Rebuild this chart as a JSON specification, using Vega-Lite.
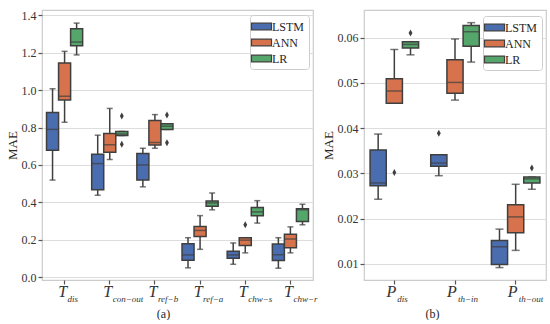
{
  "$schema": "https://vega.github.io/schema/vega-lite/v6.json",
  "padding": {"left": 5, "top": 8, "right": 5, "bottom": 0},
  "datasets": {
    "boxA": [
      {"g": "dis", "model": "LSTM", "lower": 0.519, "q1": 0.678, "median": 0.79, "q3": 0.88, "upper": 1.007},
      {"g": "dis", "model": "ANN", "lower": 0.828, "q1": 0.947, "median": 0.967, "q3": 1.145, "upper": 1.207},
      {"g": "dis", "model": "LR", "lower": 1.188, "q1": 1.237, "median": 1.257, "q3": 1.328, "upper": 1.358},
      {"g": "con−out", "model": "LSTM", "lower": 0.438, "q1": 0.467, "median": 0.607, "q3": 0.657, "upper": 0.759},
      {"g": "con−out", "model": "ANN", "lower": 0.629, "q1": 0.668, "median": 0.708, "q3": 0.768, "upper": 0.902},
      {"g": "con−out", "model": "LR", "lower": 0.757, "q1": 0.757, "median": 0.765, "q3": 0.779, "upper": 0.779},
      {"g": "ref−b", "model": "LSTM", "lower": 0.483, "q1": 0.519, "median": 0.6, "q3": 0.661, "upper": 0.689},
      {"g": "ref−b", "model": "ANN", "lower": 0.689, "q1": 0.707, "median": 0.72, "q3": 0.837, "upper": 0.869},
      {"g": "ref−b", "model": "LR", "lower": 0.79, "q1": 0.79, "median": 0.807, "q3": 0.82, "upper": 0.82},
      {"g": "ref−a", "model": "LSTM", "lower": 0.05, "q1": 0.09, "median": 0.119, "q3": 0.179, "upper": 0.211},
      {"g": "ref−a", "model": "ANN", "lower": 0.149, "q1": 0.218, "median": 0.25, "q3": 0.271, "upper": 0.329},
      {"g": "ref−a", "model": "LR", "lower": 0.36, "q1": 0.379, "median": 0.397, "q3": 0.407, "upper": 0.45},
      {"g": "chw−s", "model": "LSTM", "lower": 0.069, "q1": 0.101, "median": 0.119, "q3": 0.138, "upper": 0.183},
      {"g": "chw−s", "model": "ANN", "lower": 0.13, "q1": 0.17, "median": 0.198, "q3": 0.211, "upper": 0.211},
      {"g": "chw−s", "model": "LR", "lower": 0.289, "q1": 0.328, "median": 0.349, "q3": 0.372, "upper": 0.409},
      {"g": "chw−r", "model": "LSTM", "lower": 0.048, "q1": 0.089, "median": 0.12, "q3": 0.177, "upper": 0.211},
      {"g": "chw−r", "model": "ANN", "lower": 0.13, "q1": 0.158, "median": 0.204, "q3": 0.23, "upper": 0.269},
      {"g": "chw−r", "model": "LR", "lower": 0.28, "q1": 0.297, "median": 0.36, "q3": 0.366, "upper": 0.39}
    ],
    "outA": [
      {"g": "con−out", "model": "LR", "value": 0.862},
      {"g": "con−out", "model": "LR", "value": 0.71},
      {"g": "ref−b", "model": "LR", "value": 0.867},
      {"g": "ref−b", "model": "LR", "value": 0.718},
      {"g": "chw−s", "model": "ANN", "value": 0.28}
    ],
    "boxB": [
      {"g": "dis", "model": "LSTM", "lower": 0.0243, "q1": 0.0273, "median": 0.0279, "q3": 0.0352, "upper": 0.0387},
      {"g": "dis", "model": "ANN", "lower": 0.0455, "q1": 0.0455, "median": 0.0482, "q3": 0.0509, "upper": 0.0574},
      {"g": "dis", "model": "LR", "lower": 0.0562, "q1": 0.0577, "median": 0.0585, "q3": 0.0591, "upper": 0.0591},
      {"g": "th−in", "model": "LSTM", "lower": 0.0295, "q1": 0.0316, "median": 0.0323, "q3": 0.0341, "upper": 0.0341},
      {"g": "th−in", "model": "ANN", "lower": 0.0462, "q1": 0.0477, "median": 0.0501, "q3": 0.0551, "upper": 0.0597},
      {"g": "th−in", "model": "LR", "lower": 0.0546, "q1": 0.0581, "median": 0.0613, "q3": 0.0627, "upper": 0.0633},
      {"g": "th−out", "model": "LSTM", "lower": 0.0092, "q1": 0.0099, "median": 0.0138, "q3": 0.0152, "upper": 0.0177},
      {"g": "th−out", "model": "ANN", "lower": 0.013, "q1": 0.0169, "median": 0.0204, "q3": 0.0231, "upper": 0.0276},
      {"g": "th−out", "model": "LR", "lower": 0.0265, "q1": 0.0279, "median": 0.0288, "q3": 0.0292, "upper": 0.0292}
    ],
    "outB": [
      {"g": "dis", "model": "ANN", "value": 0.0302},
      {"g": "dis", "model": "LR", "value": 0.061},
      {"g": "th−in", "model": "LSTM", "value": 0.0389},
      {"g": "th−out", "model": "LR", "value": 0.0312}
    ]
  },
  "hconcat": [
    {
      "width": 271,
      "height": 270,
      "layer": [
        {
          "data": {"name": "boxA"},
          "mark": {"type": "rule", "color": "#3f3f3f", "strokeWidth": 1.5},
          "encoding": {
            "x": {"field": "g", "type": "nominal", "scale": {"domain": ["dis", "con−out", "ref−b", "ref−a", "chw−s", "chw−r"], "paddingInner": 0, "paddingOuter": 0},
              "axis": {"orient": "bottom", "title": "(a)", "labelExpr": "'T'", "labelFontStyle": "italic", "labelFontSize": 16, "labelPadding": -1, "labelOffset": -2, "labelAngle": 0, "labelOverlap": false, "ticks": true, "tickSize": 4, "grid": false, "domain": false, "titleX": 121, "titlePadding": 9, "titleFontSize": 12}},
            "xOffset": {"field": "model", "type": "nominal", "scale": {"domain": ["LSTM", "ANN", "LR"], "paddingInner": 0, "paddingOuter": 0.375}},
            "y": {"field": "lower", "type": "quantitative", "title": "MAE", "scale": {"domain": [-0.015, 1.428], "nice": false, "zero": false}, "axis": {"values": [0, 0.2, 0.4, 0.6, 0.8, 1.0, 1.2, 1.4], "format": ".1f", "labelOverlap": false}},
            "y2": {"field": "upper"}
          }
        },
        {
          "data": {"name": "boxA"},
          "mark": {"type": "tick", "size": 6, "thickness": 1.5, "color": "#3f3f3f"},
          "encoding": {
            "x": {"field": "g", "type": "nominal",
              "axis": {"orient": "bottom", "title": null, "labelFontStyle": "italic", "labelFontSize": 9, "labelAlign": "left", "labelOffset": 3, "labelPadding": 10, "labelAngle": 0, "labelOverlap": false, "tickOpacity": 0, "tickSize": 4, "grid": false, "domain": false}},
            "xOffset": {"field": "model", "type": "nominal"},
            "y": {"field": "lower", "type": "quantitative", "title": "MAE", "axis": {"values": [0, 0.2, 0.4, 0.6, 0.8, 1.0, 1.2, 1.4], "format": ".1f", "labelOverlap": false}}
          }
        },
        {
          "data": {"name": "boxA"},
          "mark": {"type": "tick", "size": 6, "thickness": 1.5, "color": "#3f3f3f"},
          "encoding": {
            "x": {"field": "g", "type": "nominal", "axis": null},
            "xOffset": {"field": "model", "type": "nominal"},
            "y": {"field": "upper", "type": "quantitative", "title": "MAE", "axis": {"values": [0, 0.2, 0.4, 0.6, 0.8, 1.0, 1.2, 1.4], "format": ".1f", "labelOverlap": false}}
          }
        },
        {
          "data": {"name": "boxA"},
          "mark": {"type": "bar", "stroke": "#3f3f3f", "strokeWidth": 1.5},
          "encoding": {
            "x": {"field": "g", "type": "nominal", "axis": null},
            "xOffset": {"field": "model", "type": "nominal"},
            "y": {"field": "q1", "type": "quantitative", "title": "MAE", "axis": {"values": [0, 0.2, 0.4, 0.6, 0.8, 1.0, 1.2, 1.4], "format": ".1f", "labelOverlap": false}},
            "y2": {"field": "q3"},
            "color": {"field": "model", "type": "nominal", "scale": {"domain": ["LSTM", "ANN", "LR"], "range": ["#4a6db0", "#d6734c", "#55a66a"]},
              "legend": {"title": null, "orient": "none", "legendX": 208, "legendY": 5}}
          }
        },
        {
          "data": {"name": "boxA"},
          "mark": {"type": "tick", "size": 12, "thickness": 1.5, "color": "#3f3f3f"},
          "encoding": {
            "x": {"field": "g", "type": "nominal", "axis": null},
            "xOffset": {"field": "model", "type": "nominal"},
            "y": {"field": "median", "type": "quantitative", "title": "MAE", "axis": {"values": [0, 0.2, 0.4, 0.6, 0.8, 1.0, 1.2, 1.4], "format": ".1f", "labelOverlap": false}}
          }
        },
        {
          "data": {"name": "outA"},
          "mark": {"type": "point", "shape": "M0,-1L0.55,0L0,1L-0.55,0Z", "filled": true, "color": "#3f3f3f", "size": 49, "opacity": 1},
          "encoding": {
            "x": {"field": "g", "type": "nominal", "axis": null},
            "xOffset": {"field": "model", "type": "nominal"},
            "y": {"field": "value", "type": "quantitative", "title": "MAE", "axis": {"values": [0, 0.2, 0.4, 0.6, 0.8, 1.0, 1.2, 1.4], "format": ".1f", "labelOverlap": false}}
          }
        }
      ],
      "resolve": {"axis": {"x": "independent"}}
    },
    {
      "width": 182,
      "height": 270,
      "layer": [
        {
          "data": {"name": "boxB"},
          "mark": {"type": "rule", "color": "#3f3f3f", "strokeWidth": 1.5},
          "encoding": {
            "x": {"field": "g", "type": "nominal", "scale": {"domain": ["dis", "th−in", "th−out"], "paddingInner": 0, "paddingOuter": 0},
              "axis": {"orient": "bottom", "title": "(b)", "labelExpr": "'P'", "labelFontStyle": "italic", "labelFontSize": 16, "labelPadding": -1, "labelOffset": -3, "labelAngle": 0, "labelOverlap": false, "ticks": true, "tickSize": 4, "grid": false, "domain": false, "titleX": 68, "titlePadding": 9, "titleFontSize": 12}},
            "xOffset": {"field": "model", "type": "nominal", "scale": {"domain": ["LSTM", "ANN", "LR"], "paddingInner": 0, "paddingOuter": 0.375}},
            "y": {"field": "lower", "type": "quantitative", "title": "MAE", "scale": {"domain": [0.00646, 0.0661], "nice": false, "zero": false}, "axis": {"values": [0.01, 0.02, 0.03, 0.04, 0.05, 0.06], "format": ".2f", "labelOverlap": false}},
            "y2": {"field": "upper"}
          }
        },
        {
          "data": {"name": "boxB"},
          "mark": {"type": "tick", "size": 8, "thickness": 1.5, "color": "#3f3f3f"},
          "encoding": {
            "x": {"field": "g", "type": "nominal",
              "axis": {"orient": "bottom", "title": null, "labelFontStyle": "italic", "labelFontSize": 9, "labelAlign": "left", "labelOffset": 3, "labelPadding": 10, "labelAngle": 0, "labelOverlap": false, "tickOpacity": 0, "tickSize": 4, "grid": false, "domain": false}},
            "xOffset": {"field": "model", "type": "nominal"},
            "y": {"field": "lower", "type": "quantitative", "title": "MAE", "axis": {"values": [0.01, 0.02, 0.03, 0.04, 0.05, 0.06], "format": ".2f", "labelOverlap": false}}
          }
        },
        {
          "data": {"name": "boxB"},
          "mark": {"type": "tick", "size": 8, "thickness": 1.5, "color": "#3f3f3f"},
          "encoding": {
            "x": {"field": "g", "type": "nominal", "axis": null},
            "xOffset": {"field": "model", "type": "nominal"},
            "y": {"field": "upper", "type": "quantitative", "title": "MAE", "axis": {"values": [0.01, 0.02, 0.03, 0.04, 0.05, 0.06], "format": ".2f", "labelOverlap": false}}
          }
        },
        {
          "data": {"name": "boxB"},
          "mark": {"type": "bar", "stroke": "#3f3f3f", "strokeWidth": 1.5},
          "encoding": {
            "x": {"field": "g", "type": "nominal", "axis": null},
            "xOffset": {"field": "model", "type": "nominal"},
            "y": {"field": "q1", "type": "quantitative", "title": "MAE", "axis": {"values": [0.01, 0.02, 0.03, 0.04, 0.05, 0.06], "format": ".2f", "labelOverlap": false}},
            "y2": {"field": "q3"},
            "color": {"field": "model", "type": "nominal", "scale": {"domain": ["LSTM", "ANN", "LR"], "range": ["#4a6db0", "#d6734c", "#55a66a"]},
              "legend": {"title": null, "orient": "none", "legendX": 119, "legendY": 6}}
          }
        },
        {
          "data": {"name": "boxB"},
          "mark": {"type": "tick", "size": 16, "thickness": 1.5, "color": "#3f3f3f"},
          "encoding": {
            "x": {"field": "g", "type": "nominal", "axis": null},
            "xOffset": {"field": "model", "type": "nominal"},
            "y": {"field": "median", "type": "quantitative", "title": "MAE", "axis": {"values": [0.01, 0.02, 0.03, 0.04, 0.05, 0.06], "format": ".2f", "labelOverlap": false}}
          }
        },
        {
          "data": {"name": "outB"},
          "mark": {"type": "point", "shape": "M0,-1L0.55,0L0,1L-0.55,0Z", "filled": true, "color": "#3f3f3f", "size": 49, "opacity": 1},
          "encoding": {
            "x": {"field": "g", "type": "nominal", "axis": null},
            "xOffset": {"field": "model", "type": "nominal"},
            "y": {"field": "value", "type": "quantitative", "title": "MAE", "axis": {"values": [0.01, 0.02, 0.03, 0.04, 0.05, 0.06], "format": ".2f", "labelOverlap": false}}
          }
        }
      ],
      "resolve": {"axis": {"x": "independent"}}
    }
  ],
  "spacing": 3,
  "resolve": {"scale": {"x": "independent", "y": "independent", "xOffset": "independent", "color": "independent"}, "legend": {"color": "independent"}},
  "config": {
    "font": "Liberation Serif",
    "view": {"stroke": "#cccccc", "strokeWidth": 1.2},
    "axis": {"labelFont": "Liberation Serif", "labelFontSize": 12, "labelColor": "#333333", "titleFont": "Liberation Serif", "titleFontWeight": "normal", "titleFontSize": 13, "titleColor": "#262626", "gridColor": "#dddddd", "gridWidth": 1.2, "domain": false, "tickColor": "#555555", "tickSize": 4, "tickWidth": 1.2, "labelPadding": 2, "titlePadding": 2},
    "axisY": {"grid": true},
    "axisX": {"grid": false},
    "legend": {"labelFont": "Liberation Serif", "labelFontSize": 12, "labelColor": "#262626", "symbolType": "M-1.5,-0.5H1.5V0.5H-1.5Z", "symbolSize": 178, "symbolStrokeColor": "#3f3f3f", "symbolStrokeWidth": 1.2, "symbolOpacity": 1, "strokeColor": "#cccccc", "fillColor": "white", "padding": 4, "rowPadding": 2, "cornerRadius": 3, "labelOffset": 3}
  }
}
